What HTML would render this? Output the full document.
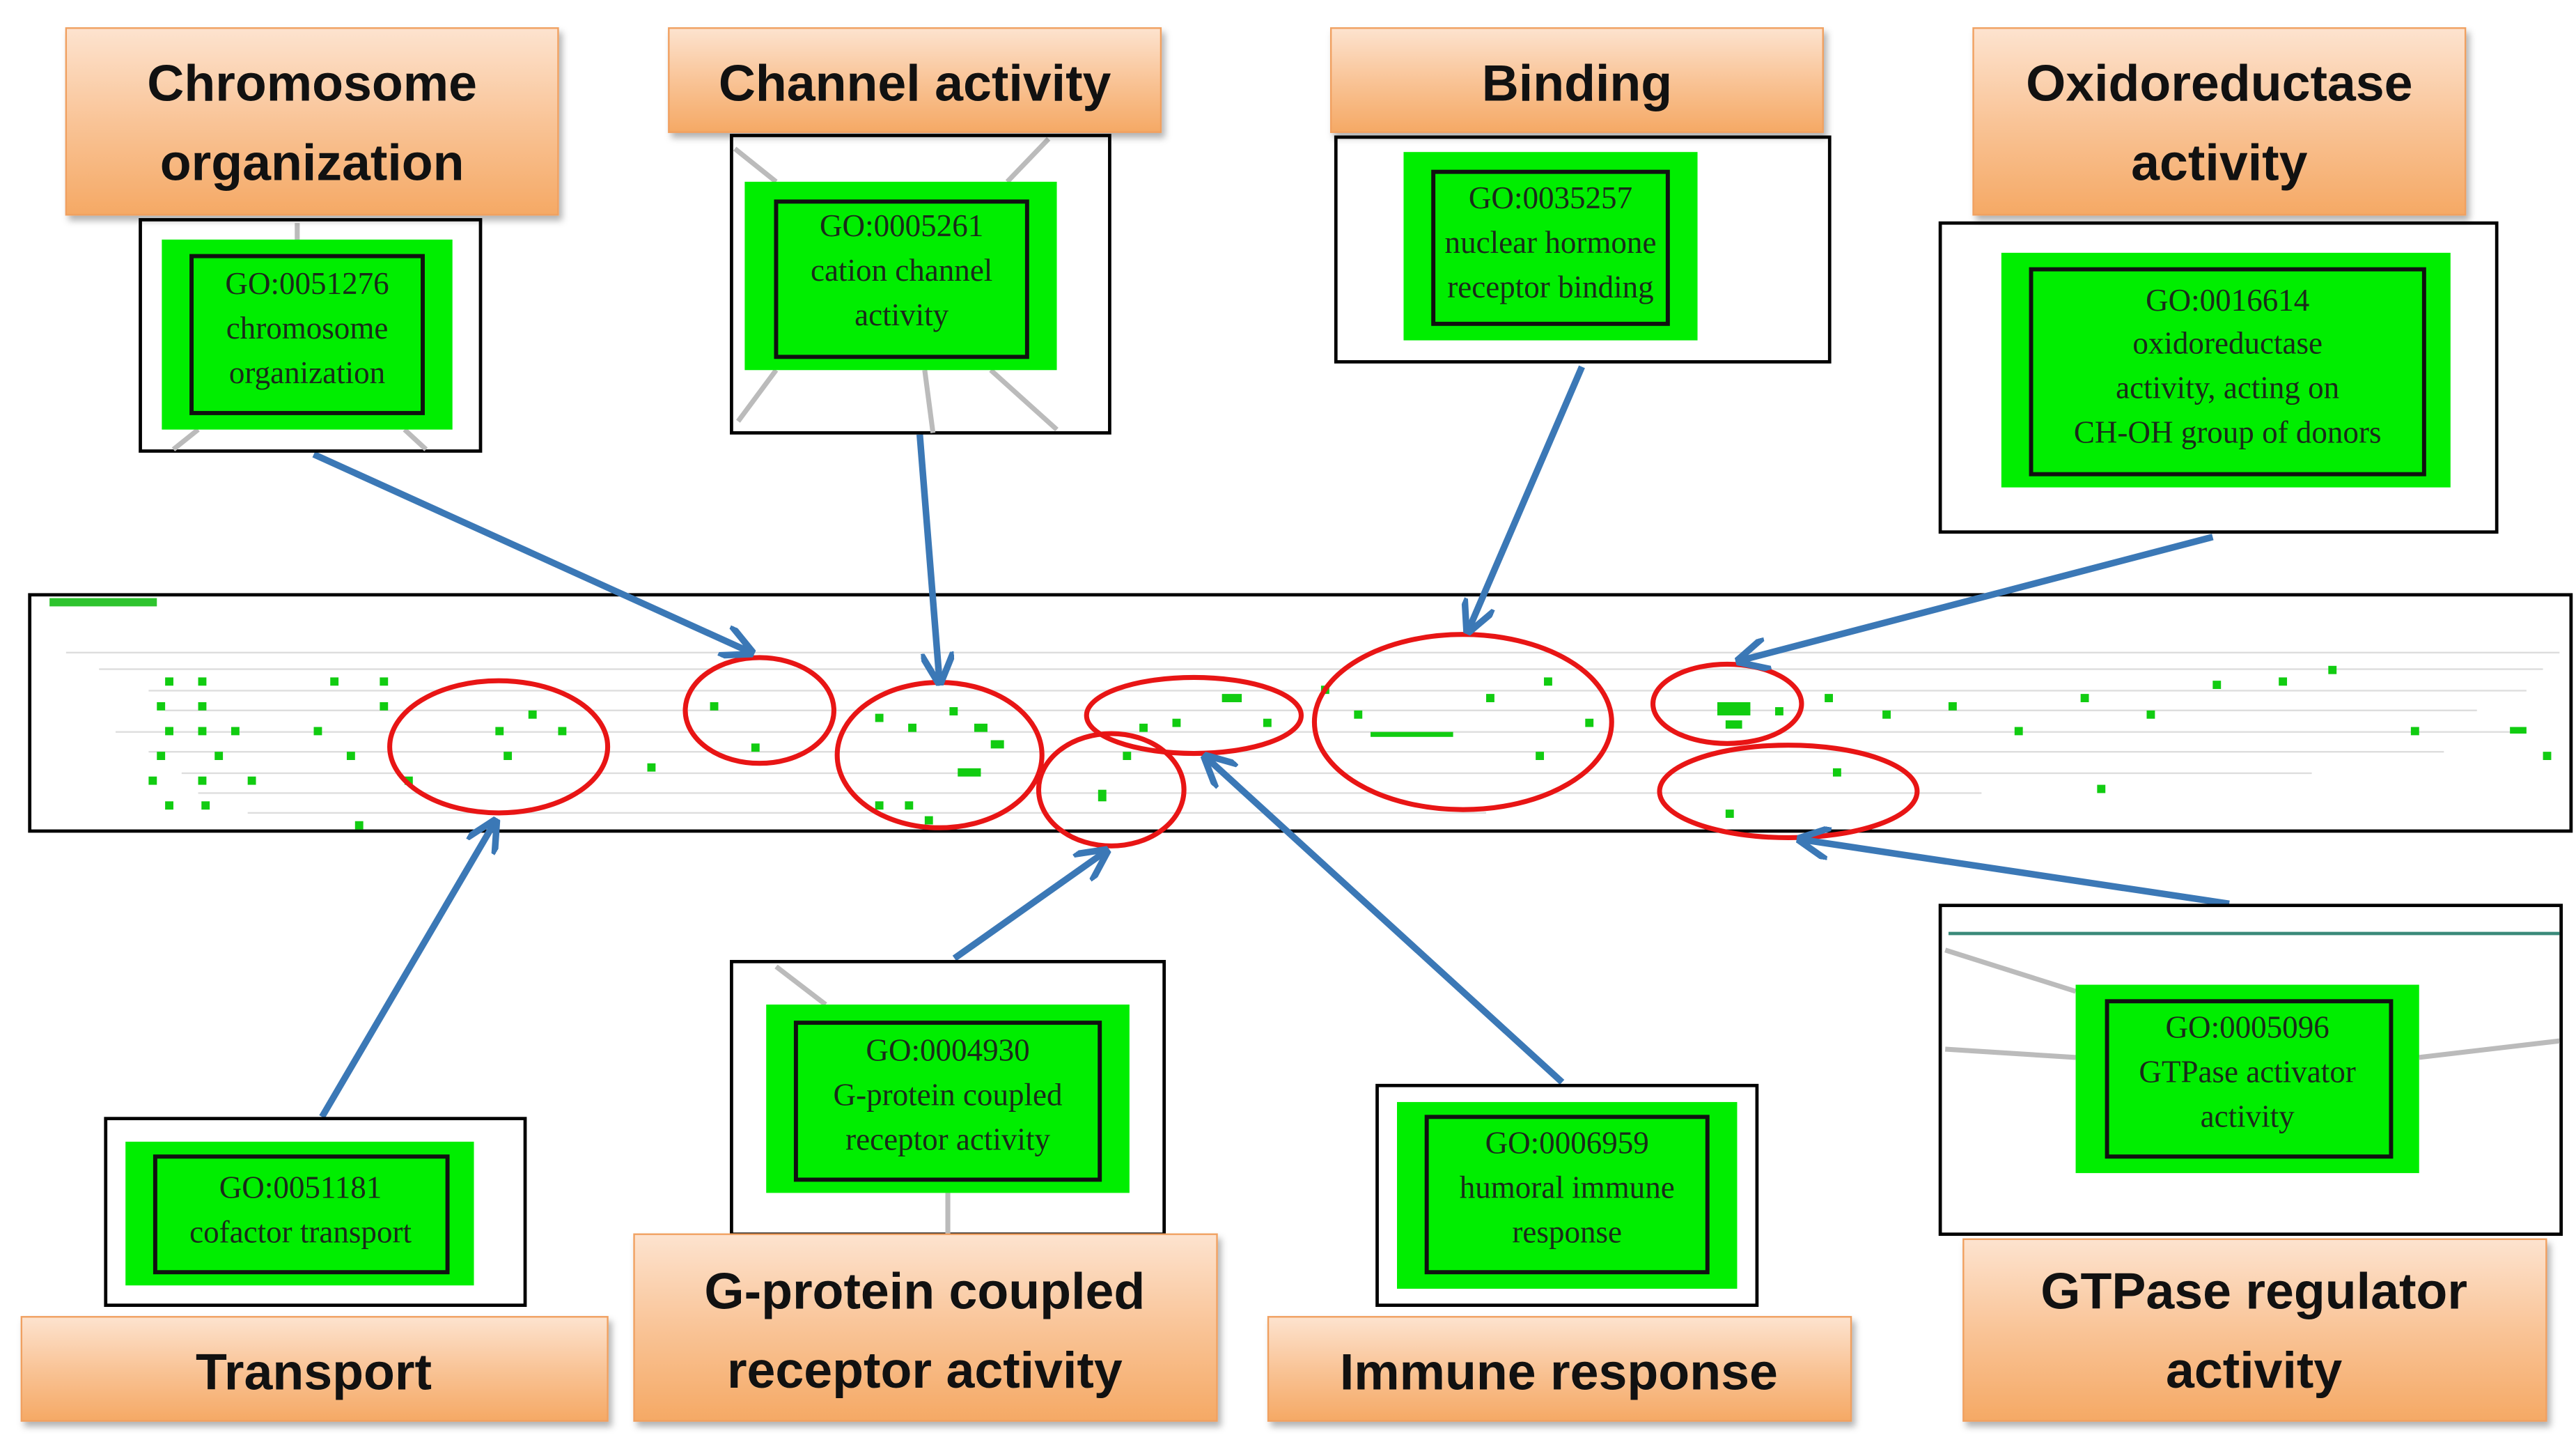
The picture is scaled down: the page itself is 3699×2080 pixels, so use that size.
<!DOCTYPE html>
<html><head><meta charset="utf-8"><style>
html,body{margin:0;padding:0;background:#fff;}
svg{display:block;}
.lab{font-family:"Liberation Sans",sans-serif;font-weight:bold;font-size:31px;fill:#111;text-anchor:middle;}
.go{font-family:"Liberation Serif",serif;font-size:19px;fill:#1a2a1a;text-anchor:middle;}
</style></head><body>
<svg width="3699" height="2080" viewBox="0 0 1560 877" preserveAspectRatio="none" xmlns="http://www.w3.org/2000/svg">
<defs>
<linearGradient id="og" x1="0" y1="0" x2="0" y2="1">
<stop offset="0" stop-color="#fde3cf"/><stop offset="0.5" stop-color="#f9c497"/><stop offset="1" stop-color="#f5a965"/>
</linearGradient>
<filter id="sh" x="-10%" y="-10%" width="130%" height="140%"><feDropShadow dx="2" dy="3" stdDeviation="2" flood-color="#000" flood-opacity="0.3"/></filter>
<marker id="ah" viewBox="0 0 10 10" refX="9" refY="5" markerWidth="5" markerHeight="5" orient="auto"><path d="M0,0 L10,5 L0,10" fill="none" stroke="#3b78b6" stroke-width="2"/></marker>
</defs>

<!-- main strip -->
<rect x="18" y="360" width="1539" height="143" fill="#fff" stroke="#000" stroke-width="2"/>
<g stroke="#ddd" stroke-width="1" fill="none">
<path d="M40,395 H1550 M60,405 H1540 M90,418 H1530 M100,430 H1500 M70,443 H1520 M90,455 H1480 M110,468 H1400 M120,480 H1200 M150,492 H900"/>
</g>
<rect x="30" y="362" width="65" height="5" fill="#2ec42e"/>
<g fill="#11cc11">
<rect x="100" y="410" width="5" height="5"/><rect x="120" y="410" width="5" height="5"/><rect x="95" y="425" width="5" height="5"/><rect x="120" y="425" width="5" height="5"/><rect x="100" y="440" width="5" height="5"/><rect x="120" y="440" width="5" height="5"/><rect x="140" y="440" width="5" height="5"/><rect x="95" y="455" width="5" height="5"/><rect x="130" y="455" width="5" height="5"/><rect x="90" y="470" width="5" height="5"/><rect x="120" y="470" width="5" height="5"/><rect x="150" y="470" width="5" height="5"/><rect x="100" y="485" width="5" height="5"/><rect x="122" y="485" width="5" height="5"/><rect x="200" y="410" width="5" height="5"/><rect x="230" y="410" width="5" height="5"/><rect x="190" y="440" width="5" height="5"/><rect x="210" y="455" width="5" height="5"/><rect x="230" y="425" width="5" height="5"/><rect x="245" y="470" width="5" height="5"/><rect x="215" y="497" width="5" height="5"/><rect x="300" y="440" width="5" height="5"/><rect x="320" y="430" width="5" height="5"/><rect x="305" y="455" width="5" height="5"/><rect x="338" y="440" width="5" height="5"/><rect x="392" y="462" width="5" height="5"/><rect x="430" y="425" width="5" height="5"/><rect x="455" y="450" width="5" height="5"/><rect x="530" y="432" width="5" height="5"/><rect x="550" y="438" width="5" height="5"/><rect x="575" y="428" width="5" height="5"/><rect x="590" y="438" width="8" height="5"/><rect x="600" y="448" width="8" height="5"/><rect x="580" y="465" width="14" height="5"/><rect x="530" y="485" width="5" height="5"/><rect x="548" y="485" width="5" height="5"/><rect x="560" y="494" width="5" height="5"/><rect x="665" y="478" width="5" height="7"/><rect x="680" y="455" width="5" height="5"/><rect x="690" y="438" width="5" height="5"/><rect x="710" y="435" width="5" height="5"/><rect x="740" y="420" width="12" height="5"/><rect x="765" y="435" width="5" height="5"/><rect x="800" y="415" width="5" height="5"/><rect x="820" y="430" width="5" height="5"/><rect x="830" y="443" width="50" height="3"/><rect x="900" y="420" width="5" height="5"/><rect x="935" y="410" width="5" height="5"/><rect x="960" y="435" width="5" height="5"/><rect x="930" y="455" width="5" height="5"/><rect x="1040" y="425" width="20" height="8"/><rect x="1045" y="436" width="10" height="5"/><rect x="1075" y="428" width="5" height="5"/><rect x="1105" y="420" width="5" height="5"/><rect x="1110" y="465" width="5" height="5"/><rect x="1045" y="490" width="5" height="5"/><rect x="1140" y="430" width="5" height="5"/><rect x="1180" y="425" width="5" height="5"/><rect x="1220" y="440" width="5" height="5"/><rect x="1260" y="420" width="5" height="5"/><rect x="1270" y="475" width="5" height="5"/><rect x="1300" y="430" width="5" height="5"/><rect x="1340" y="412" width="5" height="5"/><rect x="1380" y="410" width="5" height="5"/><rect x="1410" y="403" width="5" height="5"/><rect x="1460" y="440" width="5" height="5"/><rect x="1520" y="440" width="10" height="4"/><rect x="1540" y="455" width="5" height="5"/>
</g>

<!-- red ellipses -->
<g fill="none" stroke="#e81515" stroke-width="3">
<ellipse cx="302" cy="452" rx="66" ry="40"/>
<ellipse cx="460" cy="430" rx="45" ry="32"/>
<ellipse cx="569" cy="457" rx="62" ry="44"/>
<ellipse cx="673" cy="478" rx="44" ry="34"/>
<ellipse cx="723" cy="433" rx="65" ry="23"/>
<ellipse cx="886" cy="437" rx="90" ry="53"/>
<ellipse cx="1046" cy="426" rx="45" ry="24"/>
<ellipse cx="1083" cy="479" rx="78" ry="28"/>
</g>

<!-- blue arrows -->
<g stroke="#3b78b6" stroke-width="4" fill="none" marker-end="url(#ah)">
<line x1="190" y1="275" x2="455" y2="395"/>
<line x1="557" y1="263" x2="569" y2="413"/>
<line x1="958" y1="222" x2="889" y2="382"/>
<line x1="1340" y1="325" x2="1053" y2="400"/>
<line x1="195" y1="676" x2="300" y2="497"/>
<line x1="578" y1="580" x2="670" y2="515"/>
<line x1="946" y1="655" x2="730" y2="458"/>
<line x1="1350" y1="547" x2="1090" y2="508"/>
</g>

<!-- node boxes -->
<g stroke="#000" stroke-width="2" fill="#fff">
<rect x="85" y="133" width="206" height="140"/>
<rect x="443" y="82" width="229" height="180"/>
<rect x="809" y="83" width="299" height="136"/>
<rect x="1175" y="135" width="337" height="187"/>
<rect x="64" y="677" width="254" height="113"/>
<rect x="443" y="582" width="262" height="165"/>
<rect x="834" y="657" width="230" height="133"/>
<rect x="1175" y="548" width="376" height="199"/>
</g>
<g stroke="#bbb" stroke-width="3" fill="none">
<path d="M470,110 L445,90 M610,110 L635,84 M470,224 L447,255 M600,224 L640,260 M560,224 L565,262"/>
<path d="M1180,565 L1550,565" stroke="#3a8a7a" stroke-width="2"/>
<path d="M1178,635 L1257,640 M1465,640 L1550,630 M1178,575 L1257,600"/>
<path d="M500,608 L470,585 M574,722 L574,747"/>
<path d="M120,260 L105,272 M245,260 L258,272 M180,135 L180,145"/>
</g>

<!-- green nodes -->
<g fill="#00ee00">
<rect x="98" y="145" width="176" height="115"/>
<rect x="451" y="110" width="189" height="114"/>
<rect x="850" y="92" width="178" height="114"/>
<rect x="1212" y="153" width="272" height="142"/>
<rect x="76" y="691" width="211" height="87"/>
<rect x="464" y="608" width="220" height="114"/>
<rect x="846" y="667" width="206" height="113"/>
<rect x="1257" y="596" width="208" height="114"/>
</g>
<g fill="none" stroke="#111" stroke-width="2.5">
<rect x="116" y="155" width="140" height="95"/>
<rect x="470" y="122" width="152" height="94"/>
<rect x="868" y="104" width="142" height="92"/>
<rect x="1230" y="163" width="238" height="124"/>
<rect x="94" y="700" width="177" height="70"/>
<rect x="482" y="619" width="184" height="95"/>
<rect x="864" y="676" width="170" height="94"/>
<rect x="1276" y="606" width="172" height="94"/>
</g>
<g class="go">
<text x="186" y="178">GO:0051276</text><text x="186" y="205">chromosome</text><text x="186" y="232">organization</text>
<text x="546" y="143">GO:0005261</text><text x="546" y="170">cation channel</text><text x="546" y="197">activity</text>
<text x="939" y="126">GO:0035257</text><text x="939" y="153">nuclear hormone</text><text x="939" y="180">receptor binding</text>
<text x="1349" y="188">GO:0016614</text><text x="1349" y="214">oxidoreductase</text><text x="1349" y="241">activity, acting on</text><text x="1349" y="268">CH-OH group of donors</text>
<text x="182" y="725">GO:0051181</text><text x="182" y="752">cofactor transport</text>
<text x="574" y="642">GO:0004930</text><text x="574" y="669">G-protein coupled</text><text x="574" y="696">receptor activity</text>
<text x="949" y="698">GO:0006959</text><text x="949" y="725">humoral immune</text><text x="949" y="752">response</text>
<text x="1361" y="628">GO:0005096</text><text x="1361" y="655">GTPase activator</text><text x="1361" y="682">activity</text>
</g>

<!-- orange labels -->
<g fill="url(#og)" stroke="#f0a060" stroke-width="1" filter="url(#sh)">
<rect x="40" y="17" width="298" height="113"/>
<rect x="405" y="17" width="298" height="63"/>
<rect x="806" y="17" width="298" height="63"/>
<rect x="1195" y="17" width="298" height="113"/>
<rect x="13" y="797" width="355" height="63"/>
<rect x="384" y="747" width="353" height="113"/>
<rect x="768" y="797" width="353" height="63"/>
<rect x="1189" y="750" width="353" height="110"/>
</g>
<g class="lab">
<text x="189" y="61">Chromosome</text><text x="189" y="109">organization</text>
<text x="554" y="61">Channel activity</text>
<text x="955" y="61">Binding</text>
<text x="1344" y="61">Oxidoreductase</text><text x="1344" y="109">activity</text>
<text x="190" y="841">Transport</text>
<text x="560" y="792">G-protein coupled</text><text x="560" y="840">receptor activity</text>
<text x="944" y="841">Immune response</text>
<text x="1365" y="792">GTPase regulator</text><text x="1365" y="840">activity</text>
</g>
</svg>
</body></html>
